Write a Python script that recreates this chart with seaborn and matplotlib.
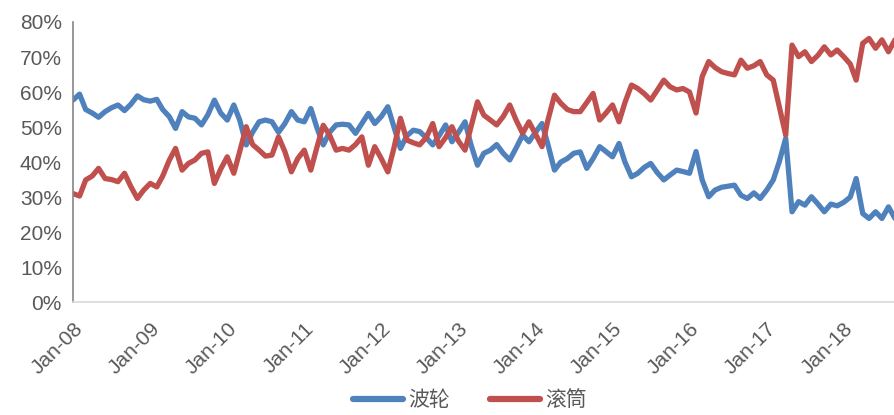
import numpy as np
import pandas as pd
import matplotlib
matplotlib.use("Agg")
import matplotlib.pyplot as plt
import matplotlib.dates as mdates
from matplotlib.ticker import PercentFormatter
import seaborn as sns

# monthly share (%), Jan-2008 .. Sep-2018
bolun = [57.7, 59.4, 55.0, 54.0, 52.8, 54.4, 55.5, 56.3, 54.7, 56.5, 58.9, 57.8,
         57.4, 57.9, 55.0, 53.0, 49.6, 54.4, 52.9, 52.5, 50.6, 53.5, 57.7, 54.0,
         52.0, 56.3, 52.0, 44.9, 48.5, 51.5, 52.0, 51.5, 48.5, 51.0, 54.4, 52.0,
         51.5, 55.3, 50.0, 44.9, 48.5, 50.6, 50.8, 50.6, 48.2, 51.0, 53.9, 51.0,
         53.0, 55.8, 50.0, 43.9, 47.5, 49.1, 48.7, 47.0, 44.9, 47.5, 50.6, 45.8,
         48.5, 51.5, 45.0, 39.1, 42.5, 43.4, 45.0, 42.5, 40.6, 44.0, 47.7, 45.8,
         48.5, 51.0, 45.0, 37.7, 40.0, 41.0, 42.5, 42.9, 38.2, 41.0, 44.4, 43.0,
         41.5, 45.3, 40.0, 35.8, 36.8, 38.5, 39.6, 37.0, 34.9, 36.3, 37.7, 37.3,
         36.8, 43.0, 34.9, 30.1, 32.0, 32.8, 33.1, 33.4, 30.5, 29.6, 31.2, 29.6,
         32.0, 34.9, 40.0, 46.8, 25.8, 28.7, 27.7, 30.1, 28.0, 25.8, 28.0, 27.5,
         28.5, 30.0, 35.3, 25.3, 23.9, 25.8, 23.9, 27.2, 23.9]

guntong = [31.0, 30.3, 34.9, 36.0, 38.2, 35.3, 35.0, 34.4, 36.8, 33.0, 29.6, 32.0,
           33.9, 32.9, 36.0, 40.5, 43.9, 37.7, 39.6, 40.6, 42.5, 42.9, 33.9, 38.0,
           41.5, 36.8, 43.0, 50.1, 45.0, 43.4, 41.7, 42.0, 47.2, 43.0, 37.2, 41.0,
           43.4, 37.7, 44.0, 50.5, 47.7, 43.4, 43.9, 43.4, 45.0, 47.2, 39.1, 44.4,
           41.0, 37.2, 44.0, 52.5, 46.3, 45.5, 44.9, 47.0, 51.0, 44.4, 47.0, 50.1,
           46.0, 43.4, 50.0, 57.2, 53.4, 52.0, 50.6, 53.0, 56.3, 52.0, 48.2, 51.5,
           48.0, 44.4, 52.0, 59.1, 56.8, 55.0, 54.4, 54.4, 57.0, 59.6, 52.0, 54.0,
           56.3, 51.5, 57.0, 62.0, 61.0, 59.5, 57.7, 60.5, 63.4, 61.5, 60.6, 61.0,
           60.0, 54.0, 64.4, 68.7, 67.0, 65.8, 65.3, 64.9, 69.1, 66.8, 67.5, 68.7,
           64.9, 63.4, 56.0, 47.7, 73.4, 70.1, 71.5, 68.7, 70.5, 72.9, 70.6, 72.0,
           70.1, 68.0, 63.4, 73.9, 75.3, 72.5, 74.9, 71.5, 74.9]

months = pd.date_range("2008-01-01", periods=len(bolun), freq="MS")
series_names = ["波轮", "滚筒"]
colors = ["#4F81BD", "#C0504D"]

df = pd.DataFrame({"date": months, "波轮": bolun, "滚筒": guntong})
df = df.melt(id_vars="date", var_name="type", value_name="share")

sns.set_style("white")
plt.rcParams["font.family"] = ["Liberation Sans", "Noto Sans CJK SC", "DejaVu Sans"]

fig = plt.figure(figsize=(8.95, 4.15), dpi=100)
ax = fig.add_axes([0.0816, 0.272, 0.9184, 0.675])

sns.lineplot(data=df, x="date", y="share", hue="type", hue_order=series_names,
             palette=colors, linewidth=3.8, ax=ax, legend=False)
for ln in ax.lines:
    ln.set_solid_joinstyle("round")
    ln.set_solid_capstyle("round")

ax.set_xlim(months[0], months[-1])
ax.set_ylim(0, 80)
ax.set_yticks(np.arange(0, 81, 10))
ax.yaxis.set_major_formatter(PercentFormatter(decimals=0))
ax.xaxis.set_major_locator(mdates.YearLocator(month=1, day=1))
ax.xaxis.set_major_formatter(mdates.DateFormatter("%b-%y"))
ax.set_xlabel("")
ax.set_ylabel("")

for lab in ax.get_xticklabels():
    lab.set_rotation(45)
    lab.set_ha("right")
    lab.set_rotation_mode("anchor")

ax.tick_params(axis="both", labelsize=15, colors="#595959", labelcolor="#595959")
ax.tick_params(axis="y", length=5, width=1, color="#868686", pad=3)
ax.tick_params(axis="x", length=5, width=1, color="#d9d9d9", pad=7)

sns.despine(ax=ax, top=True, right=True)
ax.spines["left"].set_color("#868686")
ax.spines["left"].set_linewidth(1.2)
ax.spines["bottom"].set_color("#d9d9d9")
ax.spines["bottom"].set_linewidth(1.2)

handles = [plt.Line2D([], [], color=c, linewidth=4.5, solid_capstyle="round") for c in colors]
fig.legend(handles, series_names, loc="center", bbox_to_anchor=(0.525, 0.035),
           ncol=2, frameon=False, fontsize=15, handlelength=2.4, handletextpad=0.25,
           columnspacing=1.9, labelcolor="#595959")

fig.savefig("out.png", dpi=100)
